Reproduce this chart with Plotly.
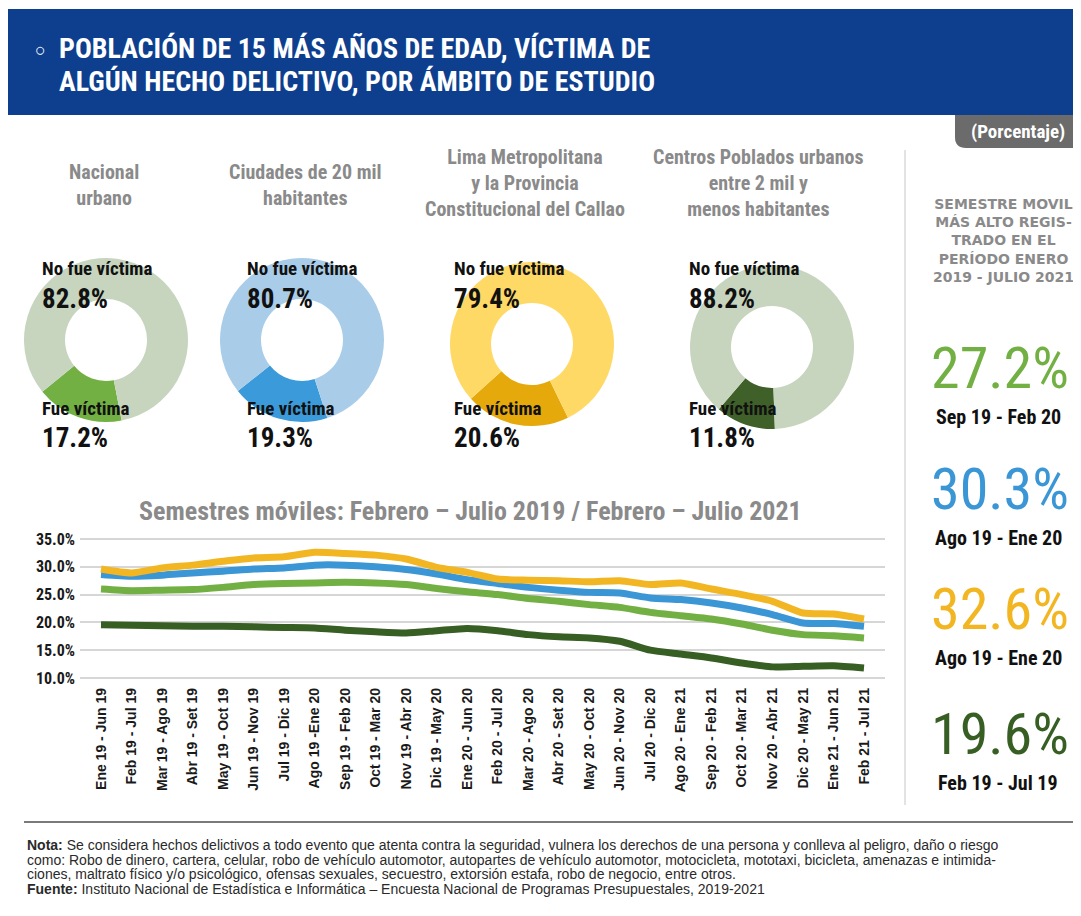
import plotly.graph_objects as go

# The page adds an 8px body margin, so the figure fills the rest of the window
OFF = 8
W, H = 1081 - OFF, 916 - OFF

# ---------------- DATA ----------------
periods = [
    "Ene 19 - Jun 19", "Feb 19 - Jul 19", "Mar 19 - Ago 19", "Abr 19 - Set 19",
    "May 19 - Oct 19", "Jun 19 - Nov 19", "Jul 19 - Dic 19", "Ago 19 -Ene 20",
    "Sep 19 - Feb 20", "Oct 19 - Mar 20", "Nov 19 - Abr 20", "Dic 19 - May 20",
    "Ene 20 - Jun 20", "Feb 20 - Jul 20", "Mar 20 - Ago 20", "Abr 20 - Set 20",
    "May 20 - Oct 20", "Jun 20 - Nov 20", "Jul 20 - Dic 20", "Ago 20 - Ene 21",
    "Sep 20 - Feb 21", "Oct 20 - Mar 21", "Nov 20 - Abr 21", "Dic 20 - May 21",
    "Ene 21 - Jun 21", "Feb 21 - Jul 21",
]
lima = [29.6, 28.9, 29.8, 30.3, 31.0, 31.6, 31.8, 32.6, 32.4, 32.1, 31.4, 29.9,
        29.0, 27.8, 27.6, 27.5, 27.3, 27.5, 26.8, 27.1, 26.0, 25.0, 23.8, 21.7,
        21.5, 20.6]
ciudades = [28.6, 28.3, 28.5, 28.9, 29.2, 29.6, 29.8, 30.3, 30.3, 30.0, 29.5, 28.7,
            27.7, 27.0, 26.3, 25.8, 25.4, 25.3, 24.4, 24.1, 23.5, 22.6, 21.4, 19.9,
            19.8, 19.3]
nacional = [26.0, 25.7, 25.8, 25.9, 26.3, 26.8, 27.0, 27.1, 27.2, 27.1, 26.8, 26.1,
            25.5, 25.0, 24.3, 23.8, 23.2, 22.7, 21.8, 21.2, 20.6, 19.7, 18.6, 17.8,
            17.6, 17.2]
centros = [19.6, 19.5, 19.4, 19.3, 19.3, 19.2, 19.1, 19.0, 18.6, 18.3, 18.1, 18.5,
           18.9, 18.5, 17.8, 17.4, 17.2, 16.6, 15.0, 14.3, 13.6, 12.7, 12.0, 12.1,
           12.2, 11.8]

ambitos = ["Nacional<br>urbano",
           "Ciudades de 20 mil<br>habitantes",
           "Lima Metropolitana<br>y la Provincia<br>Constitucional del Callao",
           "Centros Poblados urbanos<br>entre 2 mil y<br>menos habitantes"]
fue_victima = [17.2, 19.3, 20.6, 11.8]
no_fue_victima = [82.8, 80.7, 79.4, 88.2]

max_values = ["27.2%", "30.3%", "32.6%", "19.6%"]
max_periods = ["Sep 19 - Feb 20", "Ago 19 - Ene 20", "Ago 19 - Ene 20", "Feb 19 - Jul 19"]
panel_heading = "SEMESTRE MOVIL<br>MÁS ALTO REGIS-<br>TRADO EN EL<br>PERÍODO ENERO<br>2019 - JULIO 2021"

y_ticks = [10, 15, 20, 25, 30, 35]

# ---------------- STYLE ----------------
NARROW = "Liberation Sans Narrow, Arial Narrow, Roboto Condensed, sans-serif"
ARIAL = "Liberation Sans, Arial, Helvetica, sans-serif"
WIDE = "DejaVu Sans, Verdana, sans-serif"
GRAY = "#8a8a8a"
BLUE_HDR = "#0e3f8e"

c_lima, c_ciud, c_nac, c_cen = "#f2b623", "#3b96d6", "#72b043", "#375e23"
donut_dark = [c_nac, "#3b9ad9", "#e5a90c", "#3f6129"]
donut_light = ["#c7d5be", "#a9cde8", "#ffd966", "#c7d5be"]
donut_centers = [(106, 340), (302, 340), (532, 344), (772, 347)]
donut_rot = [169, 162, 154, 178]
D = 164
label_x = [40, 245, 452, 687]
title_cx = [104, 305, 525, 758]


def px(x):
    return (x - OFF) / W


def py(y):
    return 1 - (y - OFF) / H


fig = go.Figure()

# ---------------- DONUTS ----------------
for i in range(4):
    cx, cy = donut_centers[i]
    fig.add_trace(go.Pie(
        values=[fue_victima[i], no_fue_victima[i]],
        labels=["Fue víctima", "No fue víctima"],
        sort=False, direction="clockwise", rotation=donut_rot[i],
        hole=0.5, textinfo="none", hoverinfo="label+percent",
        marker=dict(colors=[donut_dark[i], donut_light[i]], line=dict(width=0)),
        domain=dict(x=[px(cx - D / 2), px(cx + D / 2)],
                    y=[py(cy + D / 2), py(cy - D / 2)]),
        showlegend=False,
    ))

# ---------------- LINES ----------------
x_idx = list(range(len(periods)))
for name, vals, col in [("Centros Poblados", centros, c_cen),
                        ("Nacional urbano", nacional, c_nac),
                        ("Ciudades de 20 mil", ciudades, c_ciud),
                        ("Lima Metropolitana", lima, c_lima)]:
    fig.add_trace(go.Scatter(
        x=x_idx, y=vals, mode="lines", name=name,
        line=dict(color=col, width=7, shape="spline", smoothing=0.6),
        showlegend=False, xaxis="x", yaxis="y",
    ))

# axis geometry (reference pixels)
ppu = (678 - 539) / 25.0
y_lo, y_hi = 9.6, 35.4
top_px = 539 - (y_hi - 35) * ppu
bot_px = 678 + (10 - y_lo) * ppu
left_px, right_px = 80, 885
spacing = (864 - 101) / 25.0
x_lo = -(101 - left_px) / spacing
x_hi = 25 + (right_px - 864) / spacing

fig.update_layout(
    width=W, height=H, margin=dict(l=0, r=0, t=0, b=0, autoexpand=False),
    paper_bgcolor="white", plot_bgcolor="white",
    xaxis=dict(domain=[px(left_px), px(right_px)], range=[x_lo, x_hi],
               tickmode="array", tickvals=x_idx, ticktext=periods,
               tickangle=-90, showgrid=False, zeroline=False, showline=False,
               ticks="", ticklabelstandoff=4, automargin=False,
               tickfont=dict(family=ARIAL, size=14, color="#1a1a1a", weight="bold")),
    yaxis=dict(domain=[py(bot_px), py(top_px)], range=[y_lo, y_hi],
               tickmode="array", tickvals=y_ticks,
               ticktext=[f"{v:.1f}%" for v in y_ticks], automargin=False,
               showgrid=True, gridcolor="#d6d6d6", gridwidth=2,
               zeroline=False, showline=False, ticks="", ticklabelstandoff=4,
               tickfont=dict(family=NARROW, size=16, color="#1a1a1a", weight="bold")),
)

shapes = []
ann = []


def text(t, x, y, size, color="#111", family=NARROW, bold=True, xanchor="left",
         yanchor="middle", align="left"):
    ann.append(dict(text=t, x=px(x), y=py(y), xref="paper", yref="paper",
                    showarrow=False, xanchor=xanchor, yanchor=yanchor, align=align,
                    font=dict(family=family, size=size, color=color,
                              weight="bold" if bold else "normal")))


# header band
shapes.append(dict(type="rect", xref="paper", yref="paper",
                   x0=px(3), x1=px(1085), y0=py(115), y1=py(9),
                   fillcolor=BLUE_HDR, line=dict(width=0), layer="below"))
text("○", 40, 50, 18, color="white", family=ARIAL, bold=False, xanchor="center")
text("POBLACIÓN DE 15 MÁS AÑOS DE EDAD, VÍCTIMA DE", 57, 49, 28, color="white")
text("ALGÚN HECHO DELICTIVO, POR ÁMBITO DE ESTUDIO", 57, 81, 28, color="white")

# (Porcentaje) tab
shapes.append(dict(type="path", xref="paper", yref="paper",
                   path=f"M {px(955)},{py(115)} L {px(1085)},{py(115)} L {px(1085)},{py(148)} "
                        f"L {px(966)},{py(148)} Q {px(955)},{py(148)} {px(955)},{py(137)} Z",
                   fillcolor="#6b6b6b", line=dict(width=0)))
text("(Porcentaje)", 1018, 132, 19, color="white", xanchor="center")

# vertical separator
shapes.append(dict(type="line", xref="paper", yref="paper",
                   x0=px(905), x1=px(905), y0=py(150), y1=py(805),
                   line=dict(color="#e3e3e3", width=2)))

# donut titles and labels
for i in range(4):
    yc = 185 if ambitos[i].count("<br>") == 1 else 183
    text(ambitos[i], title_cx[i], yc, 20, color=GRAY, xanchor="center", align="center")
    lx = label_x[i]
    text("No fue víctima", lx, 268, 19)
    text(f"{no_fue_victima[i]:.1f}%", lx, 299, 27)
    text("Fue víctima", lx, 408, 19)
    text(f"{fue_victima[i]:.1f}%", lx, 438, 27)

# line chart title
text("Semestres móviles: Febrero – Julio 2019 / Febrero – Julio 2021", 470, 511, 26,
     color=GRAY, xanchor="center")

# right panel
text(panel_heading, 1003, 240, 14, color=GRAY, family=WIDE, xanchor="center",
     align="center")
big_cols = [c_nac, c_ciud, c_lima, c_cen]
big_y = [369, 490, 610, 735]
for i in range(4):
    text(max_values[i], 1000, big_y[i] - 1, 58, color=big_cols[i], bold=False,
         xanchor="center")
    text(max_periods[i], 998, big_y[i] + 48, 20, xanchor="center")

# footer
shapes.append(dict(type="line", xref="paper", yref="paper",
                   x0=px(24), x1=px(1076), y0=py(822), y1=py(822),
                   line=dict(color="#7a7a7a", width=2)))
foot = [
    "<b>Nota:</b> Se considera hechos delictivos a todo evento que atenta contra la seguridad, vulnera los derechos de una persona y conlleva al peligro, daño o riesgo",
    "como: Robo de dinero, cartera, celular, robo de vehículo automotor, autopartes de vehículo automotor, motocicleta, mototaxi, bicicleta, amenazas e intimida-",
    "ciones, maltrato físico y/o psicológico, ofensas sexuales, secuestro, extorsión estafa, robo de negocio, entre otros.",
    "<b>Fuente:</b> Instituto Nacional de Estadística e Informática – Encuesta Nacional de Programas Presupuestales, 2019-2021",
]
for k, t in enumerate(foot):
    text(t, 25, 845 + 14.7 * k, 14, color="#2a2a2a", family=ARIAL, bold=False)

fig.update_layout(shapes=shapes, annotations=ann)
fig.write_html("out.html")
